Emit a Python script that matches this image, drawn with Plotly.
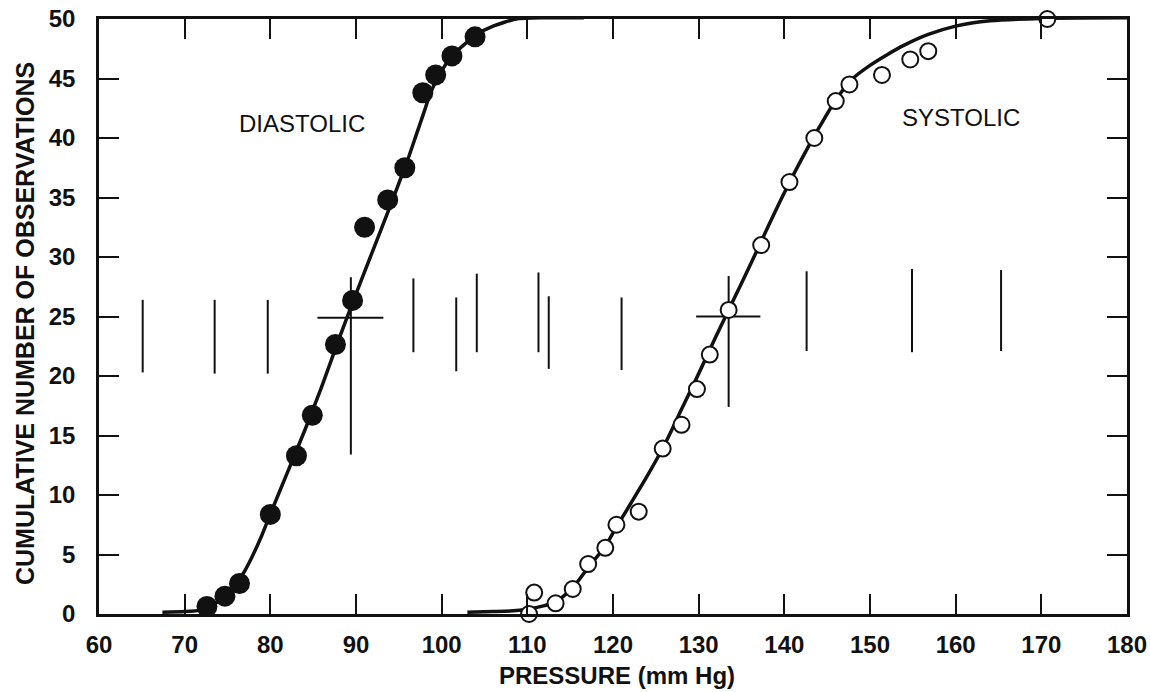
import plotly.graph_objects as go

# ---- data ----
dia_x = [72.6, 74.7, 76.4, 80.0, 83.05, 84.9, 87.6, 89.6, 91.0, 93.7, 95.7, 97.8, 99.3, 101.2, 103.9]
dia_y = [0.63, 1.5, 2.56, 8.37, 13.3, 16.7, 22.65, 26.35, 32.5, 34.8, 37.5, 43.8, 45.3, 46.9, 48.5]

sys_x = [110.2, 110.8, 113.3, 115.3, 117.1, 119.1, 120.4, 123.0, 125.8, 128.0, 129.8, 131.3,
         133.5, 137.3, 140.6, 143.5, 146.0, 147.6, 151.4, 154.7, 156.8, 170.7]
sys_y = [0.0, 1.8, 0.9, 2.1, 4.2, 5.56, 7.5, 8.6, 13.9, 15.9, 18.9, 21.8,
         25.55, 31.0, 36.3, 40.0, 43.1, 44.5, 45.3, 46.6, 47.3, 50.0]

dia_curve_x = [67.4, 70, 72, 73, 74, 75, 76, 77, 78, 79, 80, 82, 84, 86, 88, 90, 92, 94, 96, 97,
               98, 98.6, 99.5, 101.2, 104.1, 106, 108.7, 112, 116.6]
dia_curve_y = [0.15, 0.2, 0.35, 0.6, 1.1, 1.7, 2.5, 3.6, 5.0, 6.6, 8.4, 11.9, 15.4, 19.1, 23.1, 26.9,
               30.6, 34.3, 38.1, 40.2, 42.3, 43.6, 45.0, 46.9, 48.7, 49.4, 50.0, 50.1, 50.1]

sys_curve_x = [103, 106, 108, 110, 112, 113.3, 115.3, 117.1, 119.1, 120.4, 122, 124, 126, 128, 130,
               132, 134, 136, 138, 140, 142, 144, 146, 148, 150, 152, 154, 156.8, 160, 164, 170, 180]
sys_curve_y = [0.15, 0.2, 0.25, 0.4, 0.7, 1.0, 2.2, 3.9, 5.7, 7.3, 9.2, 11.6, 14.2, 17.2, 20.2,
               23.3, 26.3, 29.3, 32.4, 35.4, 38.2, 40.8, 43.2, 45.0, 46.1, 47.0, 47.8, 48.7, 49.4, 49.85, 50.05, 50.1]

# vertical marks in the middle band
rug_x = [65.1, 73.5, 79.7, 96.7, 101.7, 104.1, 111.3, 112.5, 121.0, 142.6, 154.9, 165.3]
rug_lo = [20.3, 20.2, 20.2, 22.0, 20.4, 22.0, 22.0, 20.6, 20.5, 22.1, 22.0, 22.1]
rug_hi = [26.4, 26.4, 26.4, 28.2, 26.6, 28.6, 28.7, 26.7, 26.6, 28.8, 29.0, 28.9]

# crosses: centre x, centre y, horizontal extent, vertical extent
cross_x = [89.4, 133.5]
cross_y = [24.9, 25.0]
cross_left = [85.5, 129.7]
cross_right = [93.2, 137.2]
cross_lo = [13.4, 17.4]
cross_hi = [28.3, 28.4]

x_ticks = [60, 70, 80, 90, 100, 110, 120, 130, 140, 150, 160, 170, 180]
y_ticks = [0, 5, 10, 15, 20, 25, 30, 35, 40, 45, 50]

FONT = "Liberation Sans, Arial, Helvetica, sans-serif"
INK = "#111111"

fig = go.Figure()

# rug-like vertical marks
rx, ry = [], []
for x, lo, hi in zip(rug_x, rug_lo, rug_hi):
    rx += [x, x, None]
    ry += [lo, hi, None]
fig.add_trace(go.Scatter(x=rx, y=ry, mode="lines", line=dict(color=INK, width=2),
                         hoverinfo="skip", showlegend=False))

# crosses
cx, cy = [], []
for x, y, l, r, lo, hi in zip(cross_x, cross_y, cross_left, cross_right, cross_lo, cross_hi):
    cx += [l, r, None, x, x, None]
    cy += [y, y, None, lo, hi, None]
fig.add_trace(go.Scatter(x=cx, y=cy, mode="lines", line=dict(color=INK, width=2),
                         hoverinfo="skip", showlegend=False))

# fitted curves
fig.add_trace(go.Scatter(x=dia_curve_x, y=dia_curve_y, mode="lines",
                         line=dict(color=INK, width=3.5, shape="spline", smoothing=0.6),
                         showlegend=False, cliponaxis=False))
fig.add_trace(go.Scatter(x=sys_curve_x, y=sys_curve_y, mode="lines",
                         line=dict(color=INK, width=3.5, shape="spline", smoothing=0.6),
                         showlegend=False, cliponaxis=False))

# observations
fig.add_trace(go.Scatter(x=dia_x, y=dia_y, mode="markers", name="Diastolic",
                         marker=dict(size=21, color=INK, line=dict(width=0)),
                         showlegend=False, cliponaxis=False))
fig.add_trace(go.Scatter(x=sys_x, y=sys_y, mode="markers", name="Systolic",
                         marker=dict(size=16, color="white", line=dict(width=2, color=INK)),
                         showlegend=False, cliponaxis=False))

axis_common = dict(showline=True, linewidth=2.5, linecolor=INK, mirror="ticks",
                   ticks="inside", ticklen=20, tickwidth=2, tickcolor=INK,
                   showgrid=False, zeroline=False, automargin=False,
                   tickfont=dict(family=FONT, size=24, color=INK, weight="bold"))

fig.update_xaxes(range=[60, 180], tickvals=x_ticks, ticktext=[str(v) for v in x_ticks],
                 ticklabelstandoff=7, **axis_common)
fig.update_yaxes(range=[0, 50], tickvals=y_ticks, ticktext=[str(v) for v in y_ticks],
                 ticklabelstandoff=16, **axis_common)

annos = [
    dict(text="DIASTOLIC", x=83.7, y=41.2, xref="x", yref="y", showarrow=False,
         font=dict(family=FONT, size=24, color=INK)),
    dict(text="SYSTOLIC", x=160.6, y=41.7, xref="x", yref="y", showarrow=False,
         font=dict(family=FONT, size=24, color=INK)),
    dict(text="PRESSURE (mm Hg)", x=0.504, y=-0.103, xref="paper", yref="paper",
         showarrow=False, xanchor="center", yanchor="middle",
         font=dict(family=FONT, size=24, color=INK, weight="bold")),
    dict(text="CUMULATIVE NUMBER OF OBSERVATIONS", x=-0.072, y=0.489, xref="paper",
         yref="paper", showarrow=False, textangle=-90, xanchor="center", yanchor="middle",
         font=dict(family=FONT, size=25, color=INK, weight="bold")),
]

fig.update_layout(width=1150, height=692, paper_bgcolor="white", plot_bgcolor="white",
                  margin=dict(l=99, r=23, t=19, b=78, autoexpand=False), annotations=annos,
                  font=dict(family=FONT, color=INK))

fig.write_html("out.html", config={"displayModeBar": False},
               post_script="document.body.style.margin='0';document.body.style.overflow='hidden';")
